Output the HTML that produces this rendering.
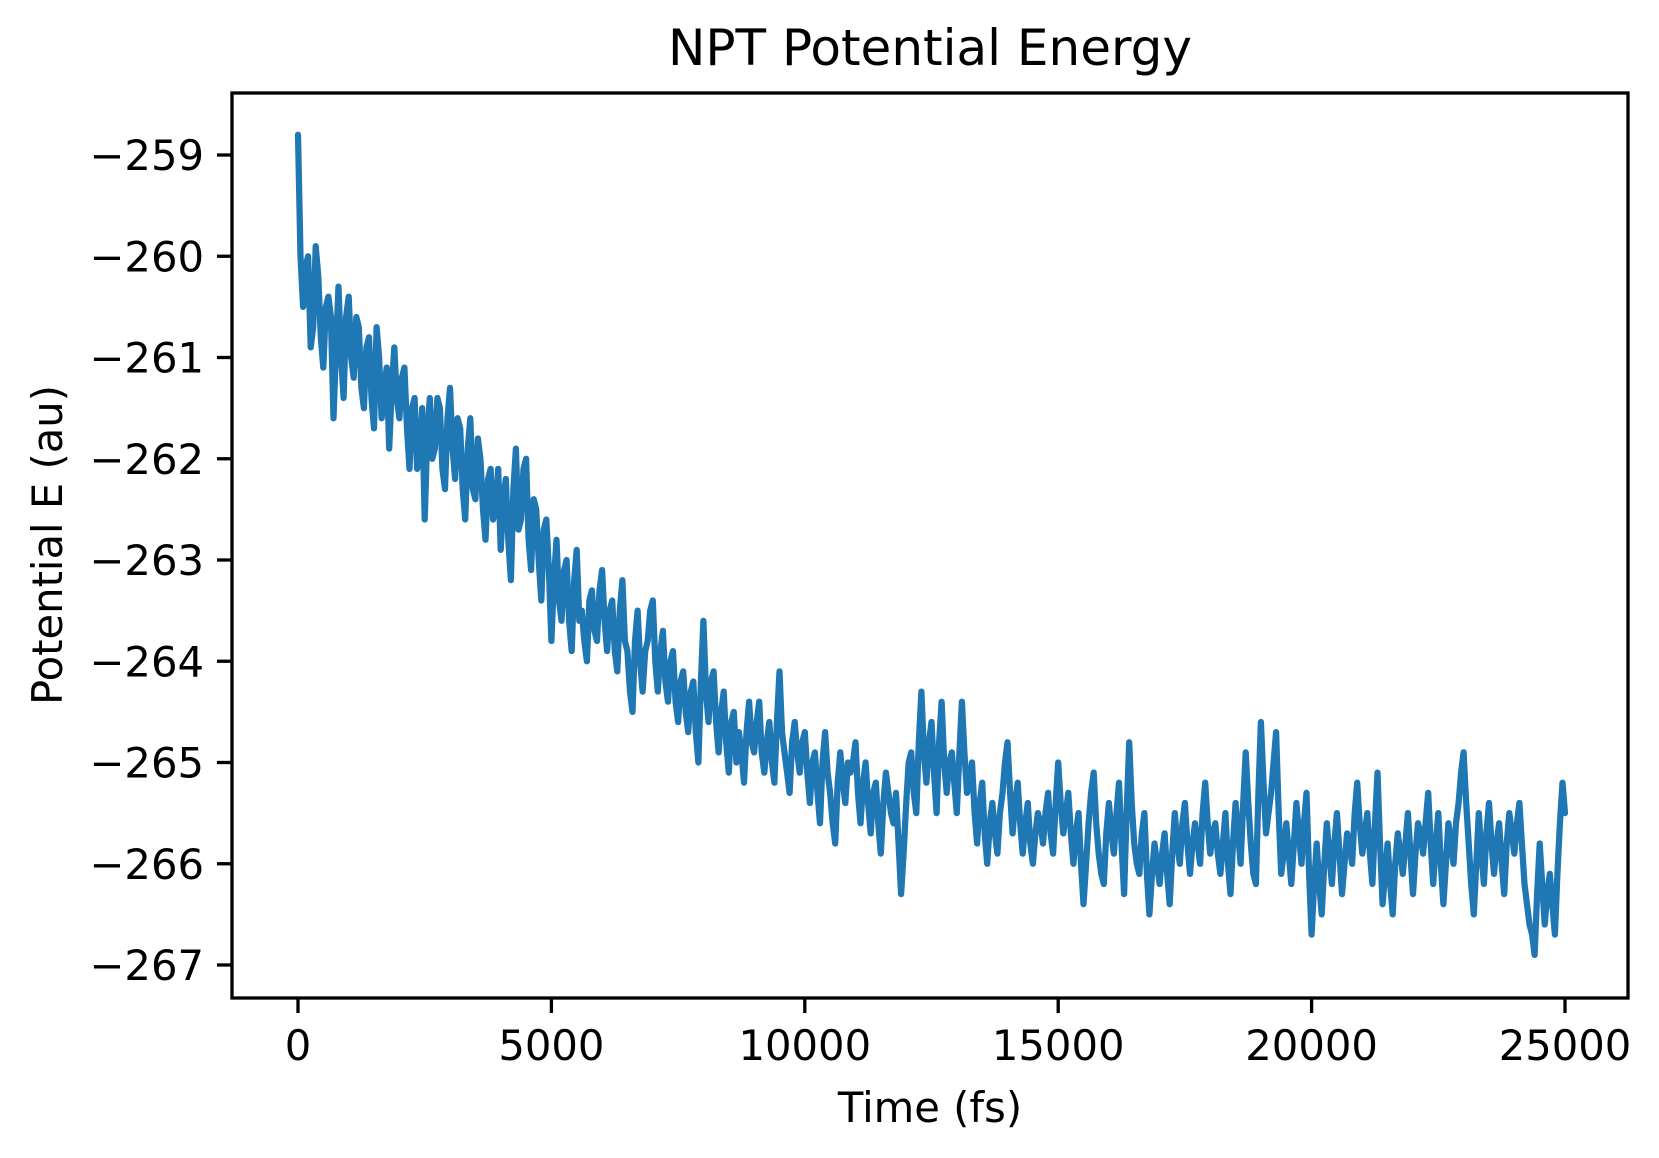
<!DOCTYPE html>
<html><head><meta charset="utf-8"><style>
html,body{margin:0;padding:0;background:#fff;}
svg{display:block;font-family:"DejaVu Sans","Liberation Sans",sans-serif;}
</style></head><body>
<svg id="chart" width="1659" height="1158" viewBox="0 0 1659 1158">
<text x="930" y="65" font-size="50" text-anchor="middle">NPT Potential Energy</text>
<text x="930" y="1122" font-size="41.7" text-anchor="middle">Time (fs)</text>
<text transform="translate(62,545) rotate(-90)" font-size="41.7" text-anchor="middle">Potential E (au)</text>
<g id="plot"></g>
<g id="xticks"></g>
<g id="yticks"></g>
<rect x="232" y="93" width="1396" height="905" fill="none" stroke="#000" stroke-width="3.3"/>
</svg>
<script>
const timeStep = 100;
// energies at t = 0, 100, 200, ... 25000
const energyValues = [
-258.8,-260.5,-260.0,-260.7,-260.2,-261.1,-260.4,-261.6,-260.3,-261.4,
-260.4,-261.2,-260.7,-261.5,-260.8,-261.7,-261.0,-261.3,-261.9,-260.9,
-261.6,-261.1,-262.1,-261.4,-262.0,-262.6,-261.4,-261.9,-261.5,-262.3,
-261.3,-262.2,-261.7,-262.6,-261.6,-262.4,-262.0,-262.8,-262.1,-262.5,
-262.9,-262.2,-263.2,-261.9,-262.6,-262.0,-263.1,-262.5,-263.4,-262.6,
-263.8,-262.8,-263.6,-263.0,-263.9,-262.9,-263.5,-264.0,-263.3,-263.8,
-263.1,-263.9,-263.4,-264.1,-263.2,-263.9,-264.5,-263.5,-264.3,-263.8,
-263.4,-264.3,-263.7,-264.4,-263.9,-264.6,-264.1,-264.7,-264.2,-265.0,
-263.6,-264.6,-264.1,-264.9,-264.3,-265.1,-264.5,-264.7,-265.2,-264.4,
-264.9,-264.4,-265.1,-264.6,-265.2,-264.1,-264.9,-265.3,-264.6,-265.1,
-264.7,-265.4,-264.9,-265.6,-264.7,-265.3,-265.8,-264.9,-265.4,-265.1,
-264.8,-265.6,-265.0,-265.7,-265.2,-265.9,-265.1,-265.5,-265.3,-266.3,
-265.4,-264.9,-265.5,-264.3,-265.2,-264.6,-265.5,-264.4,-265.3,-264.9,
-265.5,-264.4,-265.3,-265.0,-265.8,-265.2,-266.0,-265.4,-265.9,-265.3,
-264.8,-265.7,-265.2,-265.9,-265.4,-266.0,-265.5,-265.8,-265.3,-265.9,
-265.0,-265.7,-265.3,-266.0,-265.5,-266.4,-265.6,-265.1,-265.9,-266.2,
-265.4,-265.9,-265.2,-266.3,-264.8,-265.8,-266.1,-265.5,-266.5,-265.8,
-266.2,-265.7,-266.4,-265.5,-266.0,-265.4,-266.1,-265.6,-266.0,-265.2,
-265.9,-265.6,-266.1,-265.5,-266.3,-265.4,-266.0,-264.9,-265.8,-266.2,
-264.6,-265.7,-265.3,-264.7,-266.1,-265.6,-266.2,-265.4,-266.0,-265.3,
-266.7,-265.8,-266.5,-265.6,-266.2,-265.5,-266.3,-265.7,-266.0,-265.2,
-265.9,-265.5,-266.2,-265.1,-266.4,-265.8,-266.5,-265.7,-266.1,-265.5,
-266.3,-265.6,-265.9,-265.3,-266.2,-265.5,-266.4,-265.6,-266.0,-265.4,
-264.9,-265.8,-266.5,-265.5,-266.2,-265.4,-266.1,-265.6,-266.3,-265.5,
-265.9,-265.4,-266.2,-266.6,-266.9,-265.8,-266.6,-266.1,-266.7,-265.6,
-265.5
];
// energies at t = 50, 150, 250, ... 24950
const midValues = [
-260.0,-260.1,-260.9,-259.9,-260.8,-260.5,-260.6,-260.9,-261.0,-260.6,
-261.0,-260.6,-261.3,-260.9,-261.4,-260.7,-261.6,-261.1,-261.3,-261.4,
-261.2,-261.7,-261.5,-262.1,-261.5,-261.8,-262.0,-261.4,-262.1,-261.6,
-261.9,-261.6,-262.3,-261.9,-262.3,-261.8,-262.5,-262.2,-262.6,-262.1,
-262.4,-262.8,-262.3,-262.7,-262.1,-262.8,-262.4,-263.0,-262.7,-263.1,
-263.2,-263.4,-263.1,-263.6,-263.2,-263.6,-263.8,-263.4,-263.7,-263.3,
-263.6,-263.5,-263.9,-263.5,-263.8,-264.3,-263.8,-264.0,-263.9,-263.5,
-264.0,-263.9,-264.2,-264.0,-264.4,-264.2,-264.5,-264.3,-264.7,-264.2,
-264.3,-264.2,-264.6,-264.5,-264.8,-264.6,-265.0,-264.9,-264.7,-264.8,
-264.6,-264.9,-264.8,-265.0,-264.6,-264.7,-265.1,-264.8,-264.9,-264.8,
-265.1,-265.0,-265.3,-265.0,-265.1,-265.6,-265.2,-265.2,-265.0,-265.0,
-265.3,-265.2,-265.4,-265.3,-265.6,-265.4,-265.3,-265.6,-265.8,-265.9,
-265.0,-265.3,-264.8,-264.9,-264.8,-265.1,-264.8,-265.0,-265.0,-265.2,
-264.9,-264.9,-265.2,-265.5,-265.4,-265.7,-265.6,-265.7,-265.5,-265.0,
-265.3,-265.4,-265.6,-265.6,-265.8,-265.7,-265.6,-265.5,-265.7,-265.4,
-265.4,-265.5,-265.7,-265.7,-266.0,-266.0,-265.3,-265.6,-266.1,-265.7,
-265.7,-265.5,-265.8,-265.5,-265.4,-266.0,-265.7,-266.1,-266.1,-266.0,
-265.9,-266.1,-265.9,-265.8,-265.6,-265.8,-265.8,-265.8,-265.5,-265.6,
-265.7,-265.9,-265.8,-266.0,-265.8,-265.7,-265.4,-265.4,-266.1,-265.3,
-265.2,-265.5,-265.0,-265.5,-265.9,-265.9,-265.8,-265.7,-265.6,-266.1,
-266.2,-266.2,-266.0,-265.9,-265.8,-265.9,-266.0,-265.8,-265.5,-265.6,
-265.7,-265.9,-265.6,-265.8,-266.1,-266.2,-266.0,-265.9,-265.8,-265.9,
-265.9,-265.7,-265.6,-265.8,-265.8,-266.0,-266.0,-265.8,-265.6,-265.1,
-265.4,-266.2,-266.0,-265.9,-265.7,-265.8,-265.8,-266.0,-265.8,-265.7,
-265.6,-265.8,-266.4,-266.7,-266.3,-266.2,-266.3,-266.4,-266.1,-265.2
];
const xTickValues = [0,5000,10000,15000,20000,25000];
const xTickLabels = ["0","5000","10000","15000","20000","25000"];
const yTickValues = [-259,-260,-261,-262,-263,-264,-265,-266,-267];
const yTickLabels = ["\u2212259","\u2212260","\u2212261","\u2212262","\u2212263","\u2212264","\u2212265","\u2212266","\u2212267"];

const NS = "http://www.w3.org/2000/svg";
function xScale(t){ return 298 + (t - 0) * (1565 - 298) / 25000; }
function yScale(v){ return 155 + (-259 - v) * 101.25; }

const plot = document.getElementById('plot');
const pts = [];
energyValues.forEach((v, i) => {
  pts.push([i * timeStep, v]);
  if (i < midValues.length) pts.push([i * timeStep + timeStep / 2, midValues[i]]);
});
let d = '';
pts.forEach((p, i) => {
  d += (i ? 'L' : 'M') + xScale(p[0]).toFixed(1) + ',' + yScale(p[1]).toFixed(1);
});
const line = document.createElementNS(NS, 'path');
line.setAttribute('d', d);
line.setAttribute('fill', 'none');
line.setAttribute('stroke', '#1f77b4');
line.setAttribute('stroke-width', '6.25');
line.setAttribute('stroke-linejoin', 'round');
line.setAttribute('stroke-linecap', 'round');


plot.appendChild(line);

const xg = document.getElementById('xticks');
xTickValues.forEach((t, i) => {
  const x = xScale(t);
  const tk = document.createElementNS(NS, 'line');
  tk.setAttribute('x1', x); tk.setAttribute('x2', x);
  tk.setAttribute('y1', 998); tk.setAttribute('y2', 1013);
  tk.setAttribute('stroke', '#000'); tk.setAttribute('stroke-width', '3.3');
  
  
  xg.appendChild(tk);
  const tx = document.createElementNS(NS, 'text');
  tx.setAttribute('x', x); tx.setAttribute('y', 1060);
  tx.setAttribute('font-size', '41.7'); tx.setAttribute('text-anchor', 'middle');
  tx.textContent = xTickLabels[i];
  
  
  xg.appendChild(tx);
});

const yg = document.getElementById('yticks');
yTickValues.forEach((v, i) => {
  const y = yScale(v);
  const tk = document.createElementNS(NS, 'line');
  tk.setAttribute('x1', 217); tk.setAttribute('x2', 232);
  tk.setAttribute('y1', y); tk.setAttribute('y2', y);
  tk.setAttribute('stroke', '#000'); tk.setAttribute('stroke-width', '3.3');
  
  
  yg.appendChild(tk);
  const tx = document.createElementNS(NS, 'text');
  tx.setAttribute('x', 204); tx.setAttribute('y', y + 15);
  tx.setAttribute('font-size', '41.7'); tx.setAttribute('text-anchor', 'end');
  tx.textContent = yTickLabels[i];
  
  
  yg.appendChild(tx);
});
</script>
</body></html>
